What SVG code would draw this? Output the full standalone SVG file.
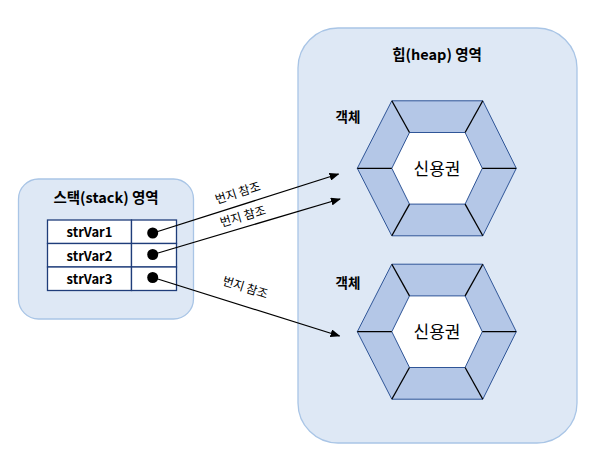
<svg xmlns="http://www.w3.org/2000/svg" width="597" height="469" viewBox="0 0 597 469">
<defs>
<style>
.area{fill:#dee8f5;stroke:#a9c5e6;stroke-width:1.3}
.t{font-family:"Noto Sans CJK KR","Liberation Sans",sans-serif;fill:#000}
.b{font-weight:bold}
.cell{fill:#fff;stroke:#1f3d7a;stroke-width:1.3}
.outer{fill:#b4c7e7;stroke:#2f5597;stroke-width:1}
.inner{fill:#fff;stroke:#2f5597;stroke-width:1}
.bev{stroke:#000;stroke-width:1.3}
.conn{stroke:#000;stroke-width:1.3;fill:none}
</style>
<marker id="ah" markerWidth="10" markerHeight="8" refX="9" refY="4" orient="auto" markerUnits="userSpaceOnUse">
<path d="M0,0 L10,4 L0,8 z" fill="#000"/>
</marker>
<g id="hexshape">
<polygon class="outer" points="-80,0 -45.5,-67.5 45.5,-67.5 79,0 45.5,67.5 -45.5,67.5"/>
<polygon class="inner" points="-45.5,0 -27.8,-35.8 27.8,-35.8 45,0 27.8,35.8 -27.8,35.8"/>
<line class="bev" x1="-80" y1="0" x2="-45.5" y2="0"/>
<line class="bev" x1="-45.5" y1="-67.5" x2="-27.8" y2="-35.8"/>
<line class="bev" x1="45.5" y1="-67.5" x2="27.8" y2="-35.8"/>
<line class="bev" x1="79" y1="0" x2="45" y2="0"/>
<line class="bev" x1="45.5" y1="67.5" x2="27.8" y2="35.8"/>
<line class="bev" x1="-45.5" y1="67.5" x2="-27.8" y2="35.8"/>
</g>
</defs>
<rect width="597" height="469" fill="#fff"/>

<g id="stack">
<rect class="area" x="18.5" y="179" width="175" height="140" rx="20"/>
<text class="t b" x="106" y="203" font-size="14.5" text-anchor="middle">스택(stack) 영역</text>
</g>
<g id="strVar1">
<rect class="cell" x="47.5" y="220" width="84" height="23.5"/>
<rect class="cell" x="131.5" y="220" width="45" height="23.5"/>
<text class="t b" x="89.5" y="237" font-size="13" text-anchor="middle">strVar1</text>
<circle cx="152.7" cy="233" r="5.5" fill="#000"/>
</g>
<g id="strVar2">
<rect class="cell" x="47.5" y="243.5" width="84" height="23.5"/>
<rect class="cell" x="131.5" y="243.5" width="45" height="23.5"/>
<text class="t b" x="89.5" y="260.5" font-size="13" text-anchor="middle">strVar2</text>
<circle cx="152.7" cy="254.5" r="5.5" fill="#000"/>
</g>
<g id="strVar3">
<rect class="cell" x="47.5" y="267" width="84" height="23.5"/>
<rect class="cell" x="131.5" y="267" width="45" height="23.5"/>
<text class="t b" x="89.5" y="284" font-size="13" text-anchor="middle">strVar3</text>
<circle cx="152.7" cy="277.5" r="5.5" fill="#000"/>
</g>

<g id="heap">
<rect class="area" x="298" y="28" width="279" height="415" rx="40"/>
<text class="t b" x="437" y="60" font-size="14.5" text-anchor="middle">힙(heap) 영역</text>
</g>
<g id="obj1">
<text class="t b" x="348" y="122" font-size="13.5" text-anchor="middle">객체</text>
<use href="#hexshape" transform="translate(437.3,168.3)"/>
<text class="t" x="437" y="174.5" font-size="17" text-anchor="middle">신용권</text>
</g>
<g id="obj2">
<text class="t b" x="348" y="288" font-size="13.5" text-anchor="middle">객체</text>
<use href="#hexshape" transform="translate(437.3,331.7)"/>
<text class="t" x="437" y="338" font-size="17" text-anchor="middle">신용권</text>
</g>

<g id="connectors">
<line class="conn" x1="153" y1="233" x2="338.5" y2="174" marker-end="url(#ah)"/>
<line class="conn" x1="153" y1="254.5" x2="340" y2="199" marker-end="url(#ah)"/>
<line class="conn" x1="153" y1="277.5" x2="339.5" y2="336" marker-end="url(#ah)"/>
<text class="t" font-size="12" text-anchor="middle" transform="translate(239,197) rotate(-17.7)">번지 참조</text>
<text class="t" font-size="12" text-anchor="middle" transform="translate(244,220.5) rotate(-16.4)">번지 참조</text>
<text class="t" font-size="12" text-anchor="middle" transform="translate(244,291.5) rotate(17.3)">번지 참조</text>
</g>
</svg>
